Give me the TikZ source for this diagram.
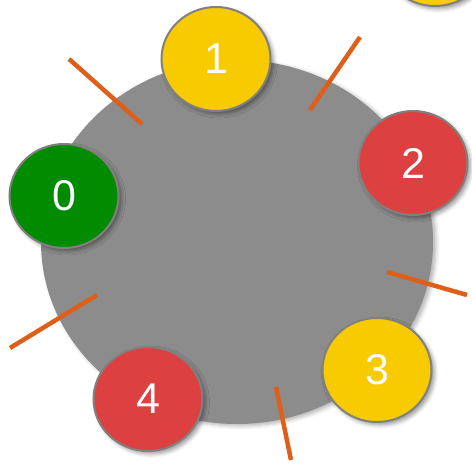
\documentclass[tikz,border=0pt]{standalone}
\usepackage{fontspec}
\setmainfont{Liberation Sans}
\usetikzlibrary{shapes.geometric,shadows.blur}
\definecolor{biggray}{HTML}{8C8C8C}
\definecolor{rimgray}{HTML}{808080}
\definecolor{ballyellow}{HTML}{F7CB00}
\definecolor{ballred}{HTML}{DC4040}
\definecolor{ballgreen}{HTML}{008B00}
\definecolor{spoke}{HTML}{DD5F1A}
\tikzset{
  ball/.style={ellipse, draw=rimgray, line width=2pt, minimum width=109pt, minimum height=104pt,
    inner sep=0pt, text=white, font=\fontsize{43}{43}\selectfont,
    blur shadow={shadow xshift=3pt, shadow yshift=-3pt, shadow blur radius=4pt, shadow opacity=40}},
  hub/.style={ellipse, fill=biggray, minimum width=392pt, minimum height=364pt, inner sep=0pt,
    blur shadow={shadow xshift=3pt, shadow yshift=-2pt, shadow blur radius=4pt, shadow opacity=30}},
  spokeline/.style={draw=spoke, line width=4.5pt}
}
\begin{document}
\begin{tikzpicture}[x=1pt,y=-1pt]
\useasboundingbox (0,0) rectangle (472,465);
\clip (0,0) rectangle (472,465);
\node[hub] (hub) at (237,242) {};
\coordinate (a1) at (69,59);   \coordinate (b1) at (142,124);
\coordinate (a2) at (360,37);  \coordinate (b2) at (310,110);
\coordinate (a3) at (387,272); \coordinate (b3) at (467,295);
\coordinate (a4) at (276,387); \coordinate (b4) at (291,460);
\coordinate (a5) at (97,295);  \coordinate (b5) at (10,348);
\draw[spokeline] (a1) -- (b1);
\draw[spokeline] (a2) -- (b2);
\draw[spokeline] (a3) -- (b3);
\draw[spokeline] (a4) -- (b4);
\draw[spokeline] (a5) -- (b5);
\node[ball, fill=ballgreen] (n0) at (64,196) {0};
\node[ball, fill=ballyellow] (n1) at (216,59) {1};
\node[ball, fill=ballred] (n2) at (413,163) {2};
\node[ball, fill=ballyellow] (n3) at (377,370) {3};
\node[ball, fill=ballred] (n4) at (148,399) {4};
\node[ball, fill=ballyellow] (n5) at (435,-46) {};
\end{tikzpicture}
\end{document}
